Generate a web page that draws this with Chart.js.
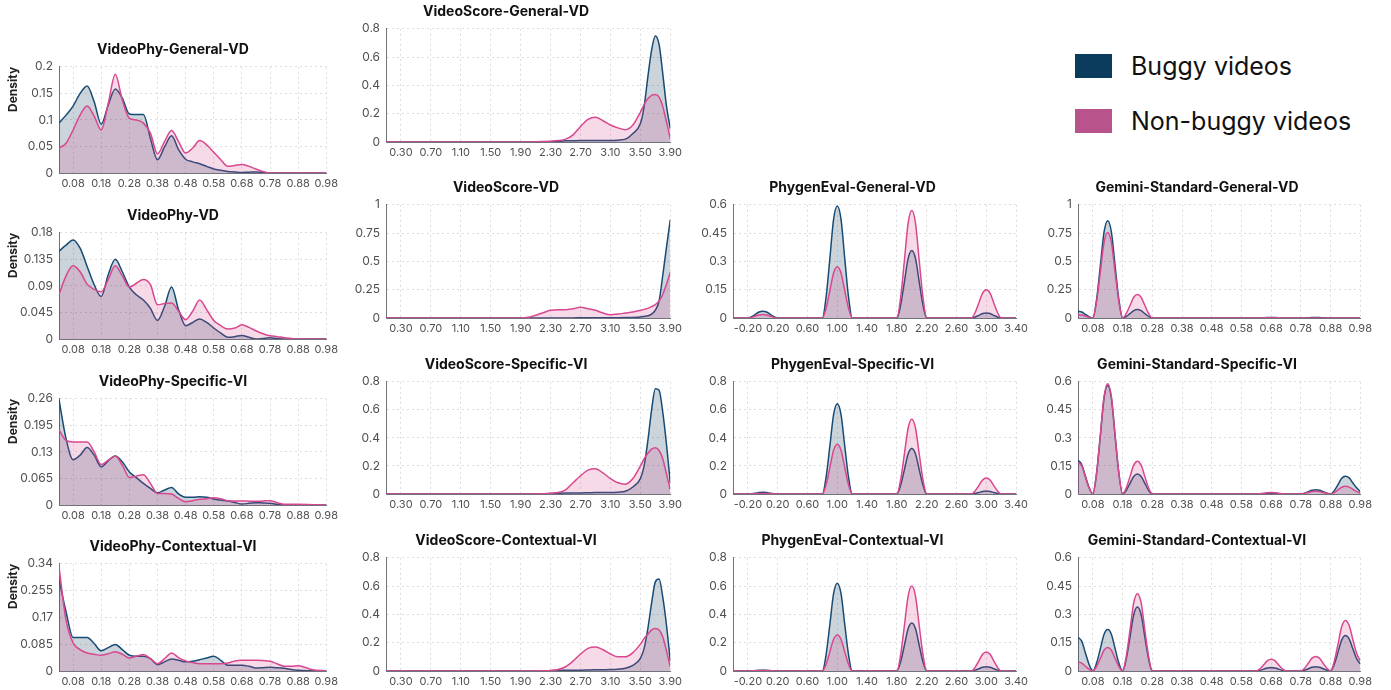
<!DOCTYPE html>
<html>
<head>
<meta charset="utf-8">
<script src="https://cdn.jsdelivr.net/npm/chart.js@4.4.1/dist/chart.umd.min.js"></script>
<style>
  html, body { margin: 0; padding: 0; background: #fff; }
  body { width: 1391px; height: 690px; position: relative; overflow: hidden; font-family: Inter, "Liberation Sans", sans-serif; }
  .panel { position: absolute; }
  .legend { position: absolute; left: 1075px; top: 54px; }
  .legend-row { display: flex; align-items: center; height: 24px; margin-bottom: 31px; font-size: 25px; color: #111; white-space: nowrap; }
  .swatch { width: 37px; height: 24px; margin-right: 19px; flex: none; }
</style>
</head>
<body>
<div class="legend">
  <div class="legend-row"><span class="swatch" style="background:#0b3c5d"></span>Buggy videos</div>
  <div class="legend-row"><span class="swatch" style="background:#b8538c"></span>Non-buggy videos</div>
</div>
<script>
// ---- x grids ----
const phyX = [0.03,0.055,0.08,0.105,0.13,0.155,0.18,0.205,0.23,0.255,0.28,0.305,0.33,0.355,0.38,0.405,0.43,0.455,0.48,0.505,0.53,0.555,0.58,0.605,0.63,0.655,0.68,0.705,0.73,0.755,0.78,0.805,0.83,0.855,0.88,0.93,0.98];
const scoreX = [0.1,1.5,1.9,2.0,2.1,2.2,2.3,2.4,2.5,2.6,2.7,2.8,2.9,3.0,3.1,3.2,3.3,3.4,3.5,3.55,3.6,3.65,3.7,3.75,3.8,3.85,3.9];
const genX = [-0.4,-0.2,-0.15,-0.1,-0.05,0,0.05,0.1,0.15,0.2,0.8,0.85,0.9,0.95,1,1.05,1.1,1.15,1.2,1.8,1.85,1.9,1.95,2,2.05,2.1,2.15,2.2,2.8,2.85,2.9,2.95,3,3.05,3.1,3.15,3.2,3.4];
const gemX = [0.03,0.0425,0.055,0.0675,0.08,0.0925,0.105,0.1175,0.13,0.1425,0.155,0.1675,0.18,0.1925,0.205,0.2175,0.23,0.2425,0.255,0.2675,0.28,0.63,0.6425,0.655,0.6675,0.68,0.6925,0.705,0.7175,0.73,0.78,0.7925,0.805,0.8175,0.83,0.8425,0.855,0.8675,0.88,0.8925,0.905,0.9175,0.93,0.9425,0.955,0.9675,0.98];

// ---- tick labels ----
const phyTicks = [0.08,0.18,0.28,0.38,0.48,0.58,0.68,0.78,0.88,0.98];
const scoreTicks = [0.3,0.7,1.1,1.5,1.9,2.3,2.7,3.1,3.5,3.9];
const genTicks = [-0.2,0.2,0.6,1.0,1.4,1.8,2.2,2.6,3.0,3.4];
const yTicksPhyGeneral = [0,0.05,0.1,0.15,0.2];
const yTicksPhyVD = [0,0.045,0.09,0.135,0.18];
const yTicksPhySpecific = [0,0.065,0.13,0.195,0.26];
const yTicksPhyContextual = [0,0.085,0.17,0.255,0.34];
const yTicksTenths = [0,0.2,0.4,0.6,0.8];
const yTicksQuarter = [0,0.25,0.5,0.75,1];
const yTicksSixths = [0,0.15,0.3,0.45,0.6];

// ---- VideoPhy densities ----
const phyGeneralBuggy = [0.094,0.109,0.126,0.150,0.164,0.134,0.092,0.128,0.158,0.141,0.111,0.110,0.110,0.065,0.025,0.049,0.070,0.044,0.026,0.021,0.0175,0.0125,0.0075,0.005,0.003,0.002,0.001,0.0015,0.002,0.001,0,0,0,0,0,0,0];
const phyGeneralNonBuggy = [0.047,0.056,0.081,0.109,0.126,0.107,0.081,0.131,0.186,0.1375,0.103,0.100,0.094,0.075,0.036,0.059,0.080,0.059,0.0375,0.047,0.061,0.053,0.039,0.025,0.0125,0.014,0.016,0.0125,0.0075,0.003,0,0,0,0,0,0,0];
const phyVDBuggy = [0.149,0.159,0.168,0.154,0.123,0.092,0.072,0.109,0.135,0.114,0.088,0.075,0.066,0.052,0.0315,0.055,0.088,0.0495,0.0225,0.028,0.034,0.028,0.0186,0.010,0.003,0.004,0.006,0.003,0,0.001,0.002,0.001,0,0,0,0,0];
const phyVDNonBuggy = [0.075,0.107,0.124,0.114,0.093,0.084,0.080,0.101,0.124,0.107,0.088,0.0945,0.101,0.092,0.058,0.060,0.061,0.047,0.0326,0.047,0.066,0.0495,0.0315,0.0225,0.017,0.0186,0.024,0.0197,0.014,0.009,0.0056,0.004,0.0022,0.001,0,0,0];
const phySpecificBuggy = [0.258,0.1625,0.111,0.122,0.1405,0.122,0.0934,0.108,0.120,0.1056,0.081,0.067,0.053,0.0406,0.030,0.0366,0.043,0.027,0.0187,0.0187,0.020,0.0187,0.0146,0.012,0.0098,0.006,0.0024,0.004,0.0057,0.005,0.004,0.002,0,0,0,0,0];
const phySpecificNonBuggy = [0.184,0.158,0.154,0.154,0.154,0.130,0.099,0.110,0.120,0.0975,0.0674,0.0707,0.074,0.0528,0.0284,0.0284,0.0268,0.0163,0.0081,0.0106,0.0138,0.0154,0.0179,0.0154,0.0106,0.010,0.0098,0.0094,0.009,0.0098,0.0106,0.0057,0.0016,0.0016,0.0016,0.0008,0];
const phyContextualBuggy = [0.289,0.188,0.106,0.106,0.106,0.087,0.064,0.074,0.084,0.068,0.050,0.047,0.047,0.039,0.020,0.029,0.038,0.034,0.029,0.031,0.036,0.041,0.047,0.034,0.018,0.018,0.018,0.015,0.0096,0.0106,0.0117,0.0106,0.0085,0.005,0.002,0.001,0];
const phyContextualNonBuggy = [0.331,0.161,0.089,0.068,0.057,0.053,0.050,0.055,0.061,0.053,0.041,0.047,0.052,0.039,0.023,0.039,0.057,0.0425,0.032,0.0266,0.023,0.023,0.023,0.023,0.0255,0.032,0.034,0.034,0.034,0.033,0.031,0.023,0.015,0.015,0.017,0.004,0.001];

// ---- VideoScore densities ----
const scoreGeneralBuggy = [0,0,0,0,0,0.001,0.002,0.005,0.008,0.009,0.01,0.01,0.01,0.01,0.01,0.013,0.02,0.06,0.13,0.25,0.46,0.65,0.75,0.69,0.48,0.25,0.094];
const scoreGeneralNonBuggy = [0,0,0,0,0.001,0.003,0.006,0.01,0.02,0.05,0.11,0.16,0.175,0.15,0.12,0.1,0.087,0.12,0.21,0.265,0.305,0.33,0.335,0.317,0.25,0.14,0.023];
const scoreVDBuggy = [0,0,0,0,0,0,0,0,0.001,0.001,0.002,0.002,0.002,0.002,0.002,0.003,0.004,0.005,0.009,0.014,0.02,0.035,0.07,0.15,0.38,0.63,0.87];
const scoreVDNonBuggy = [0,0,0,0.006,0.024,0.047,0.068,0.073,0.073,0.082,0.094,0.082,0.068,0.044,0.029,0.035,0.044,0.053,0.068,0.076,0.085,0.1,0.118,0.15,0.21,0.3,0.405];
const scoreSpecificBuggy = [0,0,0,0,0,0.001,0.003,0.005,0.007,0.008,0.008,0.009,0.01,0.01,0.01,0.013,0.02,0.05,0.11,0.2,0.38,0.6,0.75,0.74,0.58,0.35,0.08];
const scoreSpecificNonBuggy = [0,0,0,0,0.001,0.002,0.005,0.01,0.03,0.08,0.13,0.17,0.18,0.15,0.11,0.08,0.07,0.11,0.2,0.25,0.29,0.32,0.33,0.31,0.25,0.14,0.03];
const scoreContextualBuggy = [0,0,0,0,0,0.001,0.002,0.004,0.005,0.006,0.006,0.007,0.008,0.009,0.01,0.013,0.02,0.04,0.09,0.16,0.3,0.48,0.63,0.65,0.52,0.32,0.07];
const scoreContextualNonBuggy = [0,0,0,0,0.001,0.002,0.004,0.01,0.03,0.07,0.12,0.16,0.17,0.15,0.12,0.1,0.1,0.13,0.19,0.23,0.26,0.29,0.3,0.29,0.24,0.14,0.03];

// ---- PhygenEval densities ----
const genGeneralBuggy = [0, 0,0.007,0.019,0.032,0.036,0.032,0.019,0.007,0, 0,0.113,0.315,0.523,0.594,0.523,0.315,0.113,0, 0,0.068,0.19,0.315,0.358,0.315,0.19,0.068,0, 0,0.005,0.014,0.024,0.027,0.024,0.014,0.005,0, 0];
const genGeneralNonBuggy = [0, 0,0.003,0.01,0.016,0.018,0.016,0.01,0.003,0, 0,0.052,0.144,0.239,0.272,0.239,0.144,0.052,0, 0,0.108,0.302,0.502,0.57,0.502,0.302,0.108,0, 0,0.029,0.08,0.132,0.15,0.132,0.08,0.029,0, 0];
const genSpecificBuggy = [0, 0,0.002,0.006,0.011,0.012,0.011,0.006,0.002,0, 0,0.122,0.341,0.566,0.643,0.566,0.341,0.122,0, 0,0.062,0.172,0.285,0.324,0.285,0.172,0.062,0, 0,0.004,0.011,0.018,0.021,0.018,0.011,0.004,0, 0];
const genSpecificNonBuggy = [0, 0,0.001,0.002,0.0035,0.004,0.0035,0.002,0.001,0, 0,0.067,0.188,0.312,0.355,0.312,0.188,0.067,0, 0,0.101,0.282,0.469,0.533,0.469,0.282,0.101,0, 0,0.022,0.06,0.1,0.114,0.1,0.06,0.022,0, 0];
const genContextualBuggy = [0, 0,0.001,0.003,0.005,0.006,0.005,0.003,0.001,0, 0,0.118,0.329,0.546,0.62,0.546,0.329,0.118,0, 0,0.065,0.18,0.299,0.34,0.299,0.18,0.065,0, 0,0.006,0.016,0.026,0.03,0.026,0.016,0.006,0, 0];
const genContextualNonBuggy = [0, 0,0.001,0.002,0.0026,0.003,0.0026,0.002,0.001,0, 0,0.048,0.135,0.224,0.255,0.224,0.135,0.048,0, 0,0.114,0.318,0.528,0.6,0.528,0.318,0.114,0, 0,0.026,0.072,0.119,0.135,0.119,0.072,0.026,0, 0];

// ---- Gemini-Standard densities ----
const gemGeneralBuggy = [0.06,0.053,0.032,0.011,0, 0.163,0.456,0.757,0.86,0.757,0.456,0.163,0, 0.014,0.039,0.065,0.074,0.065,0.039,0.014,0, 0, 0.001,0.003,0.0044,0.005,0.0044,0.003,0.001,0, 0, 0.001,0.002,0.0035,0.004,0.0035,0.002,0.001,0, 0,0,0,0,0,0,0,0];
const gemGeneralNonBuggy = [0.03,0.026,0.016,0.006,0, 0.144,0.401,0.665,0.756,0.665,0.401,0.144,0, 0.04,0.11,0.183,0.208,0.183,0.11,0.04,0, 0, 0.001,0.002,0.0026,0.003,0.0026,0.002,0.001,0, 0, 0,0,0,0,0,0,0,0, 0,0,0,0,0,0,0,0];
const gemSpecificBuggy = [0.18,0.158,0.095,0.034,0, 0.11,0.307,0.51,0.58,0.51,0.307,0.11,0, 0.02,0.057,0.094,0.107,0.094,0.057,0.02,0, 0, 0.001,0.002,0.0035,0.004,0.0035,0.002,0.001,0, 0, 0.004,0.012,0.02,0.023,0.02,0.012,0.004,0, 0.018,0.05,0.084,0.095,0.086,0.059,0.033,0.014];
const gemSpecificNonBuggy = [0.17,0.15,0.09,0.032,0, 0.112,0.313,0.519,0.59,0.519,0.313,0.112,0, 0.033,0.093,0.154,0.175,0.154,0.093,0.033,0, 0, 0.0015,0.004,0.007,0.008,0.007,0.004,0.0015,0, 0, 0.003,0.008,0.013,0.015,0.013,0.008,0.003,0, 0.008,0.022,0.036,0.041,0.037,0.025,0.014,0.005];
const gemContextualBuggy = [0.179,0.158,0.095,0.034,0, 0.042,0.117,0.194,0.22,0.194,0.117,0.042,0, 0.064,0.18,0.298,0.339,0.298,0.18,0.064,0, 0, 0.003,0.01,0.016,0.018,0.016,0.01,0.003,0, 0, 0.004,0.012,0.02,0.023,0.02,0.012,0.004,0, 0.036,0.1,0.165,0.188,0.17,0.117,0.066,0.038];
const gemContextualNonBuggy = [0.048,0.042,0.025,0.009,0, 0.024,0.066,0.11,0.125,0.11,0.066,0.024,0, 0.078,0.217,0.361,0.41,0.361,0.217,0.078,0, 0, 0.012,0.033,0.055,0.0625,0.055,0.033,0.012,0, 0, 0.015,0.041,0.068,0.077,0.068,0.041,0.015,0, 0.051,0.142,0.236,0.268,0.241,0.166,0.094,0.054];

Chart.defaults.font.family = 'Inter, "Liberation Sans", sans-serif';
Chart.defaults.color = '#505050';
Chart.defaults.animation = false;

const TITLE_H = 14 * 1.2 + 9;
const XAXIS_H = 22;
const PAD_R = 14;

// plot-area boxes: [left, right] per column, [top, bottom] per row
const colPhy = [59, 328], colScore = [386, 672], colGen = [733, 1018], colGem = [1078, 1362];
const rowsPhy = [[66.7, 173.3], [232.7, 339.3], [398.3, 505], [564, 670.7]];
const rowsRest = [[28.3, 141.7], [205, 318], [382, 494], [558, 670.5]];

const panels = [
  { title: 'VideoPhy-General-VD', x: phyX, buggy: phyGeneralBuggy, clean: phyGeneralNonBuggy, xMin: 0.03, xMax: 0.98, xTicks: phyTicks, yTicks: yTicksPhyGeneral, density: true, col: colPhy, row: rowsPhy[0] },
  { title: 'VideoPhy-VD', x: phyX, buggy: phyVDBuggy, clean: phyVDNonBuggy, xMin: 0.03, xMax: 0.98, xTicks: phyTicks, yTicks: yTicksPhyVD, density: true, col: colPhy, row: rowsPhy[1] },
  { title: 'VideoPhy-Specific-VI', x: phyX, buggy: phySpecificBuggy, clean: phySpecificNonBuggy, xMin: 0.03, xMax: 0.98, xTicks: phyTicks, yTicks: yTicksPhySpecific, density: true, col: colPhy, row: rowsPhy[2] },
  { title: 'VideoPhy-Contextual-VI', x: phyX, buggy: phyContextualBuggy, clean: phyContextualNonBuggy, xMin: 0.03, xMax: 0.98, xTicks: phyTicks, yTicks: yTicksPhyContextual, density: true, col: colPhy, row: rowsPhy[3] },

  { title: 'VideoScore-General-VD', x: scoreX, buggy: scoreGeneralBuggy, clean: scoreGeneralNonBuggy, xMin: 0.1, xMax: 3.9, xTicks: scoreTicks, yTicks: yTicksTenths, col: colScore, row: rowsRest[0] },
  { title: 'VideoScore-VD', x: scoreX, buggy: scoreVDBuggy, clean: scoreVDNonBuggy, xMin: 0.1, xMax: 3.9, xTicks: scoreTicks, yTicks: yTicksQuarter, col: colScore, row: rowsRest[1] },
  { title: 'VideoScore-Specific-VI', x: scoreX, buggy: scoreSpecificBuggy, clean: scoreSpecificNonBuggy, xMin: 0.1, xMax: 3.9, xTicks: scoreTicks, yTicks: yTicksTenths, col: colScore, row: rowsRest[2] },
  { title: 'VideoScore-Contextual-VI', x: scoreX, buggy: scoreContextualBuggy, clean: scoreContextualNonBuggy, xMin: 0.1, xMax: 3.9, xTicks: scoreTicks, yTicks: yTicksTenths, col: colScore, row: rowsRest[3] },

  { title: 'PhygenEval-General-VD', x: genX, buggy: genGeneralBuggy, clean: genGeneralNonBuggy, xMin: -0.4, xMax: 3.4, xTicks: genTicks, yTicks: yTicksSixths, col: colGen, row: rowsRest[1] },
  { title: 'PhygenEval-Specific-VI', x: genX, buggy: genSpecificBuggy, clean: genSpecificNonBuggy, xMin: -0.4, xMax: 3.4, xTicks: genTicks, yTicks: yTicksTenths, col: colGen, row: rowsRest[2] },
  { title: 'PhygenEval-Contextual-VI', x: genX, buggy: genContextualBuggy, clean: genContextualNonBuggy, xMin: -0.4, xMax: 3.4, xTicks: genTicks, yTicks: yTicksTenths, col: colGen, row: rowsRest[3] },

  { title: 'Gemini-Standard-General-VD', x: gemX, buggy: gemGeneralBuggy, clean: gemGeneralNonBuggy, xMin: 0.03, xMax: 0.98, xTicks: phyTicks, yTicks: yTicksQuarter, col: colGem, row: rowsRest[1] },
  { title: 'Gemini-Standard-Specific-VI', x: gemX, buggy: gemSpecificBuggy, clean: gemSpecificNonBuggy, xMin: 0.03, xMax: 0.98, xTicks: phyTicks, yTicks: yTicksSixths, col: colGem, row: rowsRest[2] },
  { title: 'Gemini-Standard-Contextual-VI', x: gemX, buggy: gemContextualBuggy, clean: gemContextualNonBuggy, xMin: 0.03, xMax: 0.98, xTicks: phyTicks, yTicks: yTicksSixths, col: colGem, row: rowsRest[3] }
];

function yLabel(v) {
    return String(Number(v.toFixed(4)));
}

function makePanel(p) {
    // first column keeps room for the "Density" title, and centres its title over a wider box
    const padL = p.density ? 18 : 0;
    const yw = p.density ? 41 : 46;
    const L = p.col[0], R = p.col[1], T = p.row[0], B = p.row[1];

    const left = Math.round(L - yw - padL);
    const top = Math.round(T - TITLE_H);
    const box = document.createElement('div');
    box.className = 'panel';
    box.style.left = left + 'px';
    box.style.top = top + 'px';
    box.style.width = (Math.round(R + PAD_R) - left) + 'px';
    box.style.height = (Math.round(B + XAXIS_H) - top) + 'px';
    const cv = document.createElement('canvas');
    box.appendChild(cv);
    document.body.appendChild(box);

    const yMax = p.yTicks[p.yTicks.length - 1];

    new Chart(cv, {
        type: 'line',
        data: {
            datasets: [{
                label: 'Buggy videos',
                data: p.x.map((x, i) => ({ x: x, y: p.buggy[i] })),
                borderColor: '#174b75',
                backgroundColor: 'rgba(20,60,90,0.22)',
                fill: 'origin',
                order: 2
            }, {
                label: 'Non-buggy videos',
                data: p.x.map((x, i) => ({ x: x, y: p.clean[i] })),
                borderColor: '#d9478f',
                backgroundColor: 'rgba(215,70,140,0.2)',
                fill: 'origin',
                order: 1
            }]
        },
        options: {
            responsive: true,
            maintainAspectRatio: false,
            layout: { padding: { left: padL, right: PAD_R, top: 0, bottom: 0 } },
            elements: {
                point: { radius: 0 },
                line: { borderWidth: 1.5, cubicInterpolationMode: 'monotone' }
            },
            plugins: {
                legend: { display: false },
                tooltip: { enabled: false },
                title: {
                    display: true,
                    text: p.title,
                    color: '#111',
                    font: { size: 14, weight: 'bold' },
                    padding: { top: 0, bottom: 9 }
                }
            },
            scales: {
                x: {
                    type: 'linear',
                    min: p.xMin,
                    max: p.xMax,
                    afterBuildTicks: s => { s.ticks = p.xTicks.map(v => ({ value: v })); },
                    afterFit: s => { s.height = XAXIS_H; },
                    ticks: {
                        autoSkip: false,
                        maxRotation: 0,
                        padding: 4,
                        font: { size: 11 },
                        callback: v => v.toFixed(2)
                    },
                    grid: { color: '#dddddd', drawTicks: false },
                    border: { color: '#70737a', dash: [2, 3] }
                },
                y: {
                    min: 0,
                    max: yMax,
                    afterBuildTicks: s => { s.ticks = p.yTicks.map(v => ({ value: v })); },
                    afterFit: s => { s.width = yw; },
                    ticks: {
                        padding: 6,
                        font: { size: 12 },
                        callback: v => yLabel(v)
                    },
                    grid: { color: '#dddddd', drawTicks: false },
                    border: { color: '#70737a', dash: [2, 3] },
                    title: {
                        display: !!p.density,
                        text: 'Density',
                        align: 'end',
                        color: '#222',
                        font: { size: 12, weight: 'bold' },
                        padding: { top: -12, bottom: 0 }
                    }
                }
            }
        }
    });
}

panels.forEach(makePanel);
</script>
</body>
</html>
